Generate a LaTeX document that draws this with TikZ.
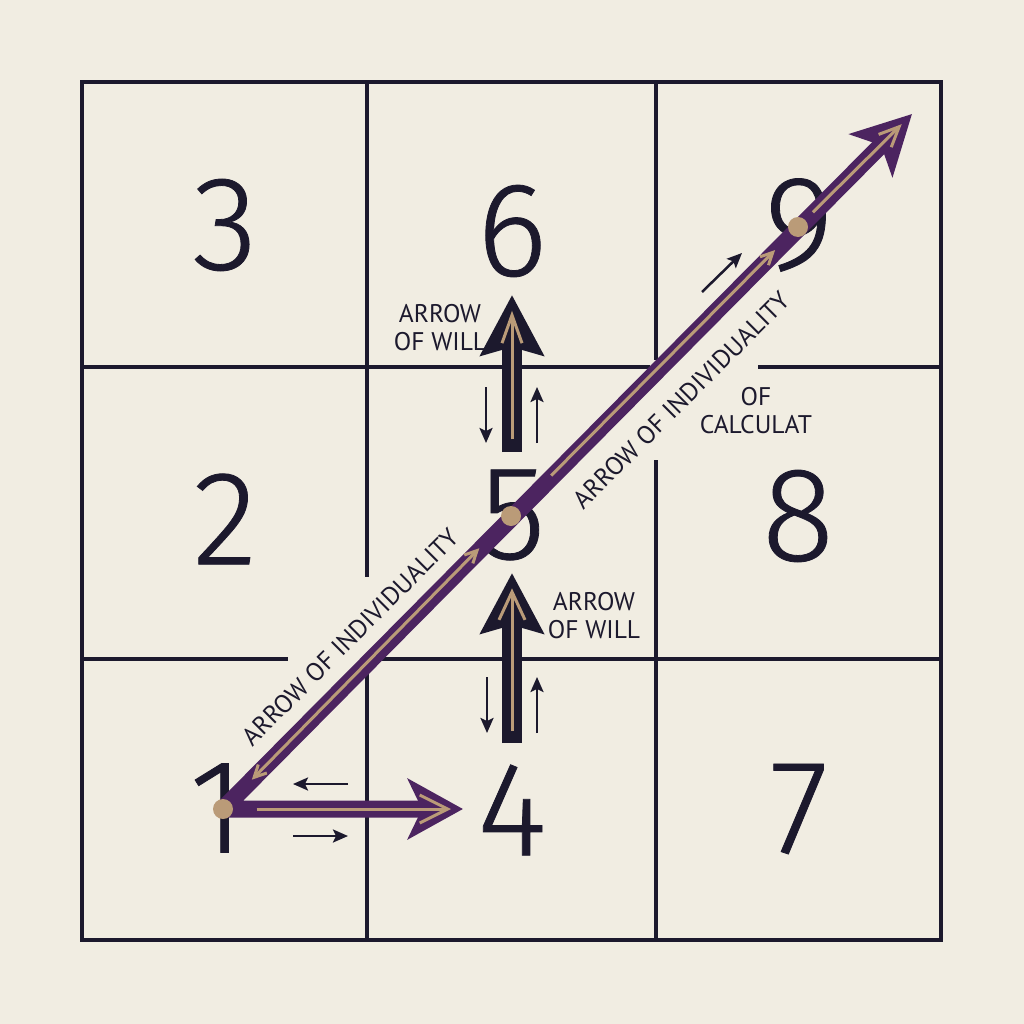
\documentclass[tikz,border=0pt]{standalone}
\usepackage{fontspec}
\setmainfont{PT Sans}
\newfontfamily\digitfont[FakeBold=0.6]{Fira Sans Light}
\usetikzlibrary{arrows.meta,calc}

\definecolor{paper}{RGB}{241,237,226}
\definecolor{ink}{RGB}{28,25,45}
\definecolor{plum}{RGB}{76,36,96}
\definecolor{sand}{RGB}{186,155,120}

\begin{document}
\begin{tikzpicture}[x=1pt, y=-1pt,
    gridline/.style={ink, line width=3.2pt},
    digit/.style={font=\digitfont\fontsize{134}{134}\selectfont, text=ink, inner sep=0pt},
    lab/.style={font=\fontsize{25.5}{28}\selectfont, text=ink, inner sep=0pt, align=center},
    will/.style={ink, line width=20pt, -{Stealth[length=60pt, width=62pt, inset=8pt]}},
    indiv/.style={plum, line width=17pt, line join=round},
    thread/.style={sand, line width=3pt},
    tick/.style={ink, line width=2.5pt, -{Stealth[length=15pt, width=13pt, inset=3pt]}},
    dot/.style={circle, fill=sand, inner sep=0pt, minimum size=20pt}]
    \fill[paper] (0,0) rectangle (1024,1024);
    \useasboundingbox (0,0) rectangle (1024,1024);

    % The square of three
    \draw[gridline] (82,82) rectangle (941,940);
    \draw[gridline] (367,82) -- (367,577) (367,673) -- (367,940);
    \draw[gridline] (656,82) -- (656,360) (656,460) -- (656,940);
    \draw[gridline] (82,367) -- (650,367) (758,367) -- (941,367);
    \draw[gridline] (82,659) -- (288,659) (380,659) -- (941,659);

    % Numbers
    \foreach \d/\x/\y in {3/225/225, 6/512/231, 9/799/225, 2/225/519, 5/513/515,
                          8/798/516, 1/217/808, 4/512/810, 7/799/809} {
        \node[digit] (n\d) at (\x,\y) {\d};
    }

    % Key points
    \coordinate (p1) at (223,809);
    \coordinate (p5) at (511,516);
    \coordinate (p9) at (798,227);
    \coordinate (tip9) at (912,114);
    \coordinate (tip4) at (463,809);
    \coordinate (w1b) at (512,452);
    \coordinate (w1t) at (512,295);
    \coordinate (w2b) at (512,743);
    \coordinate (w2t) at (512,573);

    % Labels
    \node[lab] (will1) at (440,328) {ARROW\\OF WILL};
    \node[lab] (will2) at (594,616) {ARROW\\OF WILL};
    \node[lab] (calc) at (756,411) {OF\\CALCULAT};
    \node[lab, rotate=45] (ind1) at (350,637) {ARROW OF INDIVIDUALITY};
    \node[lab, rotate=45] (ind2) at (681,400) {ARROW OF INDIVIDUALITY};

    % Arrows of will
    \draw[will] (w1b) -- (w1t);
    \draw[will] (w2b) -- (w2t);
    \draw[thread, -{Straight Barb[length=28pt, width=20pt]}] ($(w1b)!0.08!(w1t)$) -- ($(w1b)!0.9!(w1t)$);
    \draw[thread, -{Straight Barb[length=28pt, width=26pt]}] ($(w2b)!0.07!(w2t)$) -- ($(w2b)!0.91!(w2t)$);

    % Arrows of individuality
    \draw[indiv, {Stealth[length=58pt, width=60pt, inset=14pt]}-{Stealth[length=55pt, width=60pt, inset=14pt]}]
        (tip9) -- (p1) -- (tip4);
    \draw[thread, {Straight Barb[length=12pt, width=12pt]}-{Straight Barb[length=12pt, width=12pt]}]
        ($(p1)!0.1!(p5)$) -- ($(p1)!0.89!(p5)$);
    \draw[thread, -{Straight Barb[length=12pt, width=12pt]}] ($(p5)!0.14!(p9)$) -- ($(p5)!0.92!(p9)$);
    \draw[thread, -{Straight Barb[length=20pt, width=18pt]}] ($(p9)!0.13!(tip9)$) -- ($(p9)!0.91!(tip9)$);
    \draw[thread, -{Straight Barb[length=28pt, width=28pt]}] ($(p1)!0.14!(tip4)$) -- ($(p1)!0.95!(tip4)$);

    % Junctions
    \foreach \p in {1,5,9} {
        \node[dot] (d\p) at (p\p) {};
    }

    % Flow marks
    \draw[tick] (486,387) -- ++(0,56);
    \draw[tick] (537,443) -- ++(0,-56);
    \draw[tick] (487,677) -- ++(0,56);
    \draw[tick] (537,733) -- ++(0,-56);
    \draw[tick] (348,784) -- ++(-55,0);
    \draw[tick] (293,836) -- ++(55,0);
    \draw[tick] (702,292) -- ++(40,-39);
\end{tikzpicture}
\end{document}
